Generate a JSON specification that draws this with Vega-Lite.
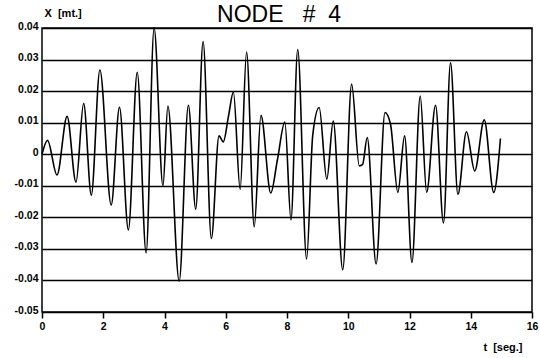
{
  "$schema": "https://vega.github.io/schema/vega-lite/v6.json",
  "width": 490,
  "height": 284,
  "autosize": {"type": "none"},
  "padding": {"left": 42, "top": 28, "right": 8, "bottom": 46},
  "background": "white",
  "title": {
    "text": "NODE\u00a0\u00a0\u00a0#\u00a0\u00a04",
    "fontSize": 23,
    "font": "Liberation Sans",
    "fontWeight": "normal",
    "color": "black",
    "anchor": "middle",
    "baseline": "alphabetic",
    "dx": -8,
    "dy": 43,
    "offset": 5
  },
  "config": {
    "view": {"stroke": "black", "strokeWidth": 1.5},
    "axis": {
      "labelFont": "Liberation Sans",
      "labelFontWeight": "bold",
      "labelFontSize": 10.5,
      "labelColor": "black",
      "titleFont": "Liberation Sans",
      "titleFontWeight": "bold",
      "titleFontSize": 11,
      "titleColor": "black"
    }
  },
  "data": {
    "values": [
      {"t": 0.0, "x": 0.0},
      {"t": 0.18, "x": 0.0044},
      {"t": 0.49, "x": -0.0066},
      {"t": 0.82, "x": 0.012},
      {"t": 1.11, "x": -0.0089},
      {"t": 1.36, "x": 0.0161},
      {"t": 1.61, "x": -0.013},
      {"t": 1.89, "x": 0.0267},
      {"t": 2.26, "x": -0.0161},
      {"t": 2.53, "x": 0.0149},
      {"t": 2.82, "x": -0.024},
      {"t": 3.11, "x": 0.026},
      {"t": 3.4, "x": -0.0313},
      {"t": 3.66, "x": 0.04},
      {"t": 3.95, "x": -0.01},
      {"t": 4.11, "x": 0.0153},
      {"t": 4.48, "x": -0.0402},
      {"t": 4.78, "x": 0.0155},
      {"t": 5.02, "x": -0.0174},
      {"t": 5.26, "x": 0.0357},
      {"t": 5.53, "x": -0.0267},
      {"t": 5.78, "x": 0.0058},
      {"t": 5.92, "x": 0.0039},
      {"t": 6.09, "x": 0.0121},
      {"t": 6.25, "x": 0.0197},
      {"t": 6.47, "x": -0.0111},
      {"t": 6.68, "x": 0.0324},
      {"t": 6.93, "x": -0.023},
      {"t": 7.15, "x": 0.0123},
      {"t": 7.47, "x": -0.0123},
      {"t": 7.69, "x": -0.0016},
      {"t": 7.93, "x": 0.0102},
      {"t": 8.13, "x": -0.0208},
      {"t": 8.35, "x": 0.0332},
      {"t": 8.64, "x": -0.0332},
      {"t": 8.84, "x": 0.006},
      {"t": 9.05, "x": 0.0148},
      {"t": 9.3, "x": -0.0079},
      {"t": 9.51, "x": 0.0105},
      {"t": 9.82, "x": -0.0366},
      {"t": 10.11, "x": 0.0222},
      {"t": 10.36, "x": -0.0037},
      {"t": 10.47, "x": -0.0032},
      {"t": 10.62, "x": 0.0053},
      {"t": 10.91, "x": -0.0348},
      {"t": 11.2, "x": 0.0132},
      {"t": 11.38, "x": 0.0095},
      {"t": 11.62, "x": -0.0121},
      {"t": 11.84, "x": 0.0058},
      {"t": 12.08, "x": -0.0343},
      {"t": 12.35, "x": 0.0184},
      {"t": 12.56, "x": -0.0121},
      {"t": 12.85, "x": 0.0155},
      {"t": 13.11, "x": -0.0218},
      {"t": 13.34, "x": 0.029},
      {"t": 13.58, "x": -0.0127},
      {"t": 13.86, "x": 0.0071},
      {"t": 14.13, "x": -0.0053},
      {"t": 14.44, "x": 0.0109},
      {"t": 14.75, "x": -0.0121},
      {"t": 14.97, "x": 0.005}
    ]
  },
  "mark": {"type": "line", "color": "black", "strokeWidth": 1.6, "interpolate": "monotone"},
  "encoding": {
    "x": {
      "field": "t",
      "type": "quantitative",
      "scale": {"domain": [0, 16], "nice": false, "zero": false},
      "axis": {
        "values": [0, 2, 4, 6, 8, 10, 12, 14, 16],
        "grid": false,
        "domain": false,
        "ticks": true,
        "tickSize": 6,
        "tickWidth": 1.5,
        "tickColor": "black",
        "labelPadding": 3,
        "labelBaseline": "top",
        "labelFlush": false,
        "title": "t\u00a0\u00a0[seg.]",
        "titleAnchor": "start",
        "titleAlign": "right",
        "titleBaseline": "alphabetic",
        "titleX": 480,
        "titleY": 38
      }
    },
    "y": {
      "field": "x",
      "type": "quantitative",
      "scale": {"domain": [-0.05, 0.04], "nice": false, "zero": false},
      "axis": {
        "values": [-0.05, -0.04, -0.03, -0.02, -0.01, 0, 0.01, 0.02, 0.03, 0.04],
        "labelExpr": "datum.value == 0 ? '0' : (datum.value < 0 ? '-' : '') + format(abs(datum.value), '.2f')",
        "grid": true,
        "gridColor": "black",
        "gridWidth": 1.4,
        "gridOpacity": 1,
        "domain": false,
        "ticks": false,
        "tickSize": 0,
        "labelPadding": 4,
        "labelBaseline": "alphabetic",
        "labelOffset": 1,
        "labelFlush": false,
        "title": "X\u00a0\u00a0[mt.]",
        "titleAngle": 0,
        "titleAlign": "left",
        "titleAnchor": "start",
        "titleBaseline": "alphabetic",
        "titleX": 2,
        "titleY": -12,
        "titleFontSize": 11
      }
    }
  }
}
